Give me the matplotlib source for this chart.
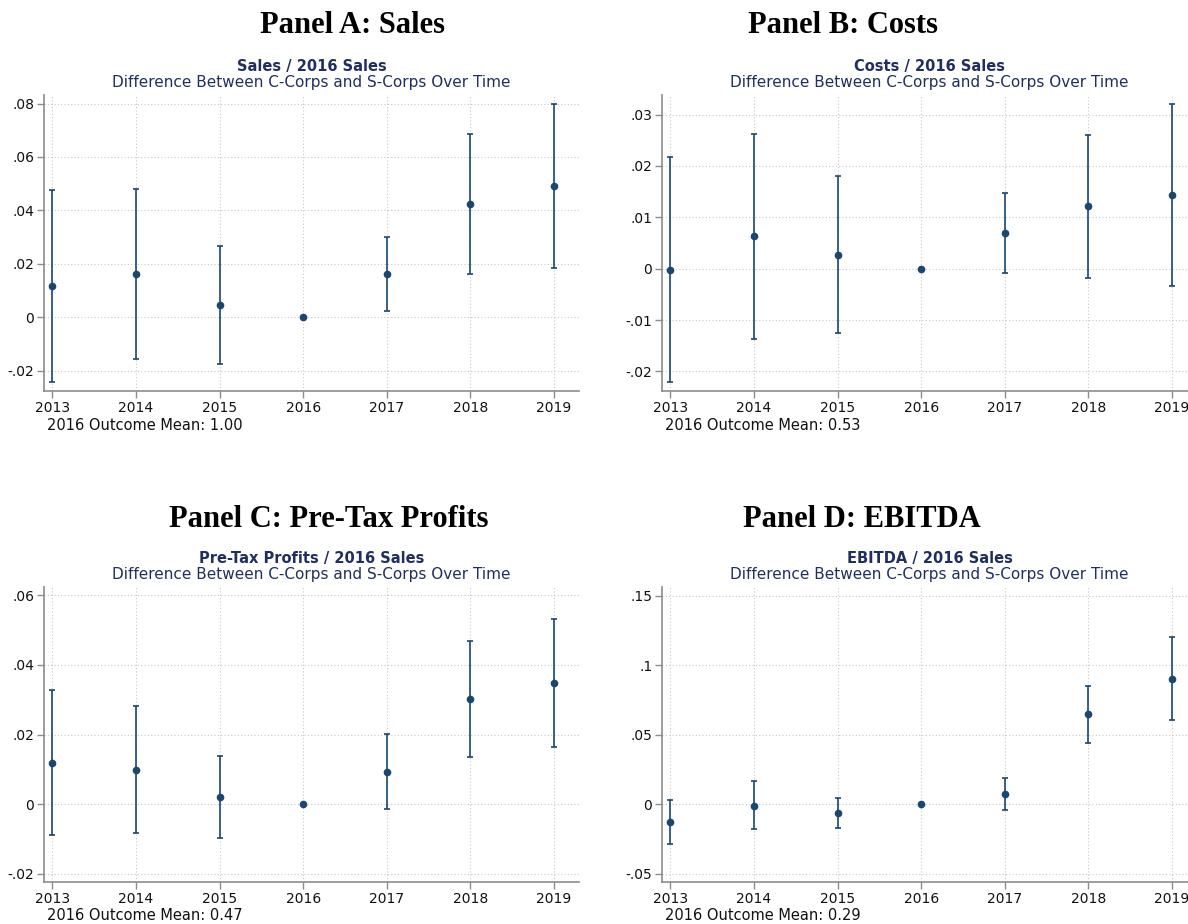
import numpy as np
import matplotlib
matplotlib.use("Agg")
import matplotlib.pyplot as plt
from matplotlib.ticker import FuncFormatter

plt.rcParams["font.family"] = ["DejaVu Sans"]

# Years
years = [2013, 2014, 2015, 2016, 2017, 2018, 2019]

# Panel A: Sales / 2016 Sales
sales_est = [0.0116, 0.0162, 0.0046, 0.0, 0.0161, 0.0424, 0.0492]
sales_lo = [-0.0243, -0.0156, -0.0176, 0.0, 0.0022, 0.0163, 0.0186]
sales_hi = [0.0478, 0.0482, 0.0268, 0.0, 0.0301, 0.0685, 0.0799]

# Panel B: Costs / 2016 Sales
costs_est = [-0.0002, 0.0064, 0.0027, 0.0, 0.0069, 0.0122, 0.0143]
costs_lo = [-0.0221, -0.0136, -0.0126, 0.0, -0.0008, -0.0018, -0.0034]
costs_hi = [0.0217, 0.0263, 0.0180, 0.0, 0.0147, 0.0261, 0.0321]

# Panel C: Pre-Tax Profits / 2016 Sales
profit_est = [0.0119, 0.0099, 0.0020, 0.0, 0.0092, 0.0303, 0.0348]
profit_lo = [-0.0089, -0.0082, -0.0097, 0.0, -0.0015, 0.0136, 0.0164]
profit_hi = [0.0327, 0.0281, 0.0137, 0.0, 0.0201, 0.0470, 0.0533]

# Panel D: EBITDA / 2016 Sales
ebitda_est = [-0.0127, -0.0010, -0.0067, 0.0, 0.0072, 0.0646, 0.0900]
ebitda_lo = [-0.0285, -0.0177, -0.0172, 0.0, -0.0043, 0.0443, 0.0603]
ebitda_hi = [0.0031, 0.0163, 0.0041, 0.0, 0.0187, 0.0849, 0.1199]

panel_titles = ["Panel A: Sales", "Panel B: Costs", "Panel C: Pre-Tax Profits", "Panel D: EBITDA"]
sub_titles = ["Sales / 2016 Sales", "Costs / 2016 Sales", "Pre-Tax Profits / 2016 Sales", "EBITDA / 2016 Sales"]
outcome_means = ["1.00", "0.53", "0.47", "0.29"]
yticks_list = [[-0.02, 0, 0.02, 0.04, 0.06, 0.08],
               [-0.02, -0.01, 0, 0.01, 0.02, 0.03],
               [-0.02, 0, 0.02, 0.04, 0.06],
               [-0.05, 0, 0.05, 0.1, 0.15]]
ylims = [(-0.0276, 0.0832), (-0.0238, 0.0338), (-0.0224, 0.0624), (-0.056, 0.1562)]

ests = [sales_est, costs_est, profit_est, ebitda_est]
los = [sales_lo, costs_lo, profit_lo, ebitda_lo]
his = [sales_hi, costs_hi, profit_hi, ebitda_hi]

navy = "#1a476f"
title_col = "#1f2f5f"
axis_col = "#8c8c8c"

W, H = 1188, 924
fig = plt.figure(figsize=(W/100, H/100), dpi=100)


def stata_fmt(v, pos):
    if abs(v) < 1e-12:
        return "0"
    s = f"{v:g}"
    return s.replace("0.", ".")


# axes positions in pixels: left, top, right, bottom
boxes = [(44, 95, 579, 391), (662, 95, 1197, 391),
         (44, 587, 579, 882), (662, 587, 1197, 882)]
panel_cx = [352, 843, 329, 862]
panel_base = [33, 33, 527, 527]
sub_y = [(67, 83), (67, 83), (559, 574), (559, 574)]
mean_y = [426, 426, 916, 916]

for i in range(4):
    l, t, r, b = boxes[i]
    ax = fig.add_axes([l/W, 1 - b/H, (r - l)/W, (b - t)/H])
    yrs = np.array(years)
    est = np.array(ests[i])
    lo = np.array(los[i])
    hi = np.array(his[i])
    m = yrs != 2016
    ax.errorbar(yrs[m], est[m], yerr=[est[m] - lo[m], hi[m] - est[m]], fmt="none",
                ecolor=navy, elinewidth=1.2, capsize=2.2, capthick=1.2, zorder=3)
    ax.plot(yrs, est, "o", color=navy, ms=4.5, zorder=4)

    ax.set_xlim(2012.9, 2019.3)
    ax.set_ylim(*ylims[i])
    ax.set_xticks(years)
    ax.set_yticks(yticks_list[i])
    ax.yaxis.set_major_formatter(FuncFormatter(stata_fmt))
    ax.grid(True, color="#c8c8c8", linestyle=(0, (1, 2)), linewidth=0.8)
    ax.set_axisbelow(True)
    for s in ["top", "right"]:
        ax.spines[s].set_visible(False)
    for s in ["left", "bottom"]:
        ax.spines[s].set_color(axis_col)
        ax.spines[s].set_linewidth(1.2)
    ax.tick_params(colors=axis_col, labelcolor="#111111", labelsize=10, length=5, width=1.0, pad=2)

    fig.text(panel_cx[i]/W, 1 - panel_base[i]/H, panel_titles[i], ha="center", va="baseline",
             fontsize=22, fontweight="bold", family="Liberation Serif")
    cx = (l + r) / 2 if i % 2 == 0 else (l + 1197) / 2
    fig.text(cx/W, 1 - sub_y[i][0]/H, sub_titles[i], ha="center", va="center",
             fontsize=10.5, fontweight="bold", color=title_col)
    fig.text(cx/W, 1 - sub_y[i][1]/H, "Difference Between C-Corps and S-Corps Over Time",
             ha="center", va="center", fontsize=11, color=title_col)
    x0 = l + 3
    fig.text(x0/W, 1 - mean_y[i]/H, "2016 Outcome Mean: " + outcome_means[i],
             ha="left", va="center", fontsize=10.5, color="#111111")

fig.savefig("out.png", dpi=100)
